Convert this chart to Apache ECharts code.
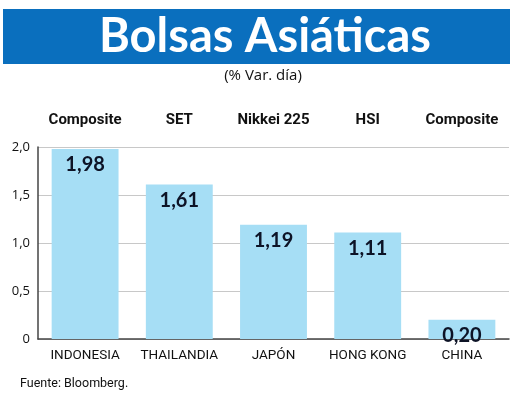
<!DOCTYPE html>
<html><head><meta charset="utf-8">
<script src="https://cdn.jsdelivr.net/npm/echarts@6/dist/echarts.min.js"></script>
<style>html,body{margin:0;padding:0;background:#fff}#c{width:520px;height:408px}</style>
</head><body><div id="c"></div>
<script>
const countries = ['INDONESIA','THAILANDIA','JAPÓN','HONG KONG','CHINA'];
const indices = ['Composite','SET','Nikkei 225','HSI','Composite'];
const values = [1.98, 1.61, 1.19, 1.11, 0.20];
const yTicks = [0, 0.5, 1.0, 1.5, 2.0];

const fmt = v => v === 0 ? '0' : v.toFixed(1).replace('.', ',');
const fam = "'Roboto',sans-serif";

const chart = echarts.init(document.getElementById('c'), null, {renderer:'canvas'});
chart.setOption({
  animation:false,
  backgroundColor:'#fff',
  graphic:[
    {type:'rect', shape:{x:3,y:9,width:507,height:55}, style:{fill:'#0a6fbe'}, z:0},
    {type:'text', x:265, y:37, style:{text:'Bolsas Asiáticas', fill:'#fff', font:"bold 47px 'Lato',sans-serif", textAlign:'center', textVerticalAlign:'middle'}},
    {type:'text', x:263, y:76, style:{text:'(% Var. día)', fill:'#111', font:"15px 'Open Sans',sans-serif", textAlign:'center', textVerticalAlign:'middle'}},
    {type:'text', x:20, y:384, style:{text:'Fuente: Bloomberg.', fill:'#111', font:"12.5px "+fam, textAlign:'left', textVerticalAlign:'middle'}}
  ],
  grid:{left:38, right:11, top:147, bottom:69, containLabel:false},
  xAxis:[
    {type:'category', data:countries, position:'bottom',
     axisLine:{show:true, lineStyle:{color:'#444', width:1.5}},
     axisTick:{show:false},
     axisLabel:{interval:0, color:'#111', fontSize:13.5, fontFamily:fam, margin:10}},
    {type:'category', data:indices, position:'top',
     axisLine:{show:false}, axisTick:{show:false},
     axisLabel:{interval:0, color:'#111', fontSize:15, fontWeight:'bold', fontFamily:fam, margin:19}}
  ],
  yAxis:{type:'value', min:0, max:2, interval:0.5,
    axisLine:{show:true, lineStyle:{color:'#444', width:1.5}},
    axisTick:{show:false},
    splitLine:{lineStyle:{color:'#c8c8c8', width:1}},
    axisLabel:{color:'#111', fontSize:13, fontFamily:"'Open Sans',sans-serif", margin:8,
      formatter: v => yTicks.includes(v) ? fmt(v) : ''}},
  series:[{
    type:'bar', data:values, xAxisIndex:0, barCategoryGap:'29%',
    itemStyle:{color:'#a6def5'},
    label:{show:true, position:'insideTop', distance:6, color:'#0d1326', fontSize:20, fontWeight:'bold',
      fontFamily:"'Lato',sans-serif", formatter: p => p.value.toFixed(2).replace('.', ',')}
  }]
});
</script></body></html>
